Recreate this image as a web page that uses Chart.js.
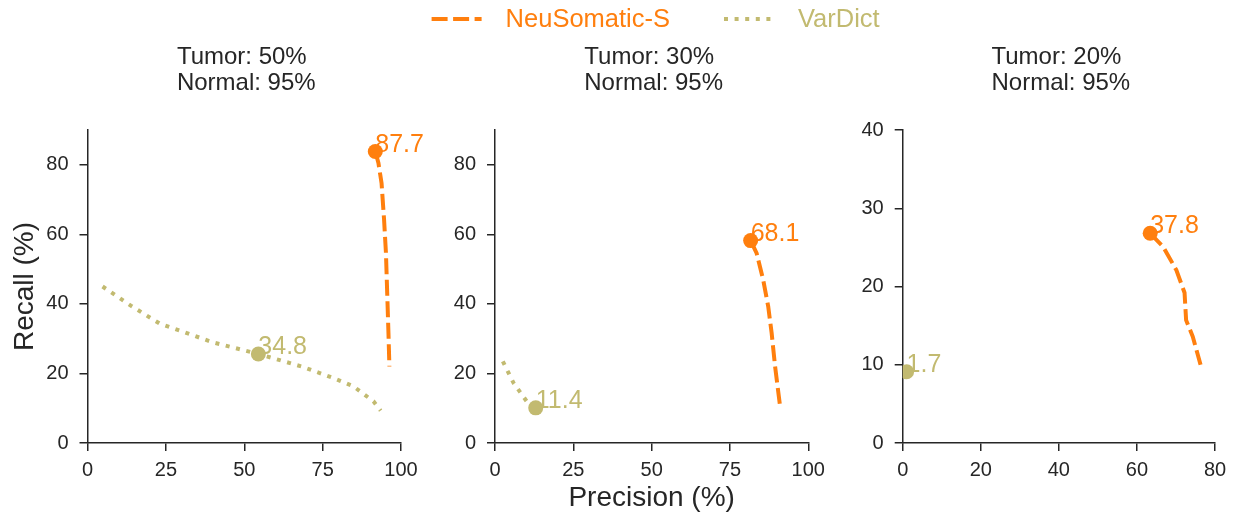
<!DOCTYPE html>
<html>
<head>
<meta charset="utf-8">
<script src="https://cdn.jsdelivr.net/npm/chart.js@4.4.1/dist/chart.umd.min.js"></script>
<style>
  body { margin: 0; background: #fff; }
  #wrap { position: relative; width: 1239px; height: 520px; }
  #wrap canvas { position: absolute; left: 0; top: 0; }
</style>
</head>
<body>
<div id="wrap">
  <canvas id="panel50" width="1239" height="520"></canvas>
  <canvas id="panel30" width="1239" height="520"></canvas>
  <canvas id="panel20" width="1239" height="520"></canvas>
</div>
<script>
// series + panel names
const seriesNames = ['NeuSomatic-S', 'VarDict'];
const panelTitles = [['Tumor: 50%', 'Normal: 95%'], ['Tumor: 30%', 'Normal: 95%'], ['Tumor: 20%', 'Normal: 95%']];

// Tumor 50%
const neu50Precision = [91.8, 92.8, 93.8, 94.6, 95.2, 95.6, 96.0, 96.3];
const neu50Recall = [83.8, 80.5, 74.7, 64.2, 54.6, 43.1, 31.6, 22.0];
const var50Precision = [4.8, 13.8, 23.1, 29.5, 40.1, 54.5, 68.3, 78.4, 84.8, 91.2, 93.5];
const var50Recall = [45.0, 39.5, 34.3, 32.3, 28.9, 25.6, 22.0, 18.7, 16.3, 12.0, 9.3];

// Tumor 30%
const neu30Precision = [81.6, 83.5, 85.6, 87.2, 88.3, 89.4, 91.0];
const neu30Recall = [58.2, 54.6, 46.9, 39.3, 31.6, 22.0, 10.5];
const var30Precision = [2.5, 5.9, 10.1, 13.0];
const var30Recall = [23.5, 17.3, 12.0, 10.1];

// Tumor 20%
const neu20Precision = [63.4, 66.7, 70.1, 72.2, 72.6, 74.3, 76.3];
const neu20Recall = [26.8, 25.1, 22.1, 19.2, 15.7, 13.6, 10.0];
const var20Precision = [1.0];
const var20Recall = [9.1];

// highlighted points and their labels
const neuMarkerPrecision = [91.8, 81.6, 63.4];
const neuMarkerRecall = [83.8, 58.2, 26.8];
const neuMarkerLabels = ['87.7', '68.1', '37.8'];
const varMarkerPrecision = [54.5, 13.0, 1.0];
const varMarkerRecall = [25.6, 10.1, 9.1];
const varMarkerLabels = ['34.8', '11.4', '1.7'];

// axis ranges
const xMax = [100, 100, 80];
const xStep = [25, 25, 20];
const yMax = [90, 90, 40];
const yStep = [20, 20, 10];

const neuColor = 'rgb(255, 127, 14)';
const varColor = 'rgb(194, 186, 112)';
const inkColor = '#262626';
const fontFamily = '"Liberation Sans", Arial, Helvetica, sans-serif';

Chart.defaults.font.family = fontFamily;
Chart.defaults.color = inkColor;

// plot area edges of each panel (canvas is full page)
const plotLeft = [87.5, 495, 902.7];
const plotRight = [401, 808.3, 1215];
const yAxisWidth = 80;
const xAxisHeight = 77;

function toPoints(xs, ys) {
  return xs.map((x, k) => ({ x: x, y: ys[k] }));
}

// titles, point labels and the shared legend
const panelText = {
  id: 'panelText',
  beforeDatasetsDraw(chart, args, opts) {
    const ctx = chart.ctx;
    ctx.save();
    ctx.textAlign = 'left';
    ctx.textBaseline = 'alphabetic';
    ctx.font = '25px ' + fontFamily;
    chart.data.datasets.forEach((ds, di) => {
      if (!ds.pointLabel) return;
      const pt = chart.getDatasetMeta(di).data[0];
      ctx.fillStyle = ds.pointBackgroundColor;
      ctx.fillText(ds.pointLabel, pt.x, pt.y);
    });
    ctx.restore();
  },
  afterDraw(chart, args, opts) {
    const ctx = chart.ctx;
    const area = chart.chartArea;
    const mid = (area.left + area.right) / 2;
    ctx.save();
    ctx.textAlign = 'left';
    ctx.textBaseline = 'alphabetic';

    // two line title, lines left aligned, block centred
    ctx.font = '24px ' + fontFamily;
    ctx.fillStyle = inkColor;
    const w = Math.max(...opts.title.map(t => ctx.measureText(t).width));
    opts.title.forEach((t, k) => ctx.fillText(t, mid - w / 2 + 2, 64 + k * 26));

    if (opts.legend) {
      ctx.font = '25.5px ' + fontFamily;
      const lineDs = chart.data.datasets.filter(d => d.isCurve);
      const sample = 50, gap = 24, between = 54;
      const widths = lineDs.map(d => ctx.measureText(d.label).width);
      let total = 0;
      widths.forEach((tw, k) => { total += sample + gap + tw + (k ? between : 0); });
      let x = mid + 4 - total / 2;
      lineDs.forEach((d, k) => {
        ctx.strokeStyle = d.borderColor;
        ctx.lineWidth = d.borderWidth;
        ctx.setLineDash(d.borderDash);
        ctx.lineCap = 'butt';
        ctx.beginPath();
        ctx.moveTo(x, 19);
        ctx.lineTo(x + sample, 19);
        ctx.stroke();
        ctx.setLineDash([]);
        ctx.fillStyle = d.borderColor;
        ctx.fillText(d.label, x + sample + gap, 27);
        x += sample + gap + widths[k] + between;
      });
    }
    ctx.restore();
  }
};

function makePanel(i, canvasId, neuX, neuY, varX, varY) {
  const ctx = document.getElementById(canvasId).getContext('2d');
  return new Chart(ctx, {
    type: 'line',
    data: {
      datasets: [
        {
          label: seriesNames[0] + ' point',
          data: toPoints([neuMarkerPrecision[i]], [neuMarkerRecall[i]]),
          showLine: false,
          pointRadius: 7.5,
          pointBorderWidth: 0,
          pointBackgroundColor: neuColor,
          pointLabel: neuMarkerLabels[i],
          clip: 0,
          order: 0
        },
        {
          label: seriesNames[1] + ' point',
          data: toPoints([varMarkerPrecision[i]], [varMarkerRecall[i]]),
          showLine: false,
          pointRadius: 7.5,
          pointBorderWidth: 0,
          pointBackgroundColor: varColor,
          pointLabel: varMarkerLabels[i],
          clip: 0,
          order: 0
        },
        {
          label: seriesNames[0],
          isCurve: true,
          data: toPoints(neuX, neuY),
          borderColor: neuColor,
          borderWidth: 4,
          borderDash: [16, 5.5],
          borderCapStyle: 'butt',
          pointRadius: 0,
          tension: 0,
          fill: false,
          order: 1
        },
        {
          label: seriesNames[1],
          isCurve: true,
          data: toPoints(varX, varY),
          borderColor: varColor,
          borderWidth: 4,
          borderDash: [4, 6.6],
          borderCapStyle: 'butt',
          pointRadius: 0,
          tension: 0,
          fill: false,
          order: 1
        }
      ]
    },
    options: {
      responsive: false,
      devicePixelRatio: 1,
      animation: false,
      events: [],
      layout: {
        padding: { left: plotLeft[i] - yAxisWidth, right: 1239 - plotRight[i], top: 130, bottom: 0 }
      },
      plugins: {
        legend: { display: false },
        title: { display: false },
        tooltip: { enabled: false },
        panelText: { title: panelTitles[i], legend: i === 1 }
      },
      scales: {
        x: {
          type: 'linear',
          min: 0,
          max: xMax[i],
          ticks: { stepSize: xStep[i], includeBounds: false, padding: 7, color: inkColor, font: { size: 20 } },
          grid: { display: true, drawOnChartArea: false, drawTicks: true, tickLength: 8, color: inkColor, lineWidth: 1.5 },
          border: { display: true, color: inkColor, width: 1.5 },
          title: { display: i === 1, text: 'Precision (%)', color: inkColor, font: { size: 28 }, padding: { top: 0, bottom: 5 } },
          afterFit: s => { s.height = xAxisHeight; }
        },
        y: {
          type: 'linear',
          min: 0,
          max: yMax[i],
          ticks: { stepSize: yStep[i], includeBounds: false, padding: 11, color: inkColor, font: { size: 20 } },
          grid: { display: true, drawOnChartArea: false, drawTicks: true, tickLength: 8, color: inkColor, lineWidth: 1.5 },
          border: { display: true, color: inkColor, width: 1.5 },
          title: { display: i === 0, text: 'Recall (%)', color: inkColor, font: { size: 28 }, padding: { top: 1, bottom: 0 } },
          afterFit: s => { s.width = yAxisWidth; }
        }
      }
    },
    plugins: [panelText]
  });
}

makePanel(0, 'panel50', neu50Precision, neu50Recall, var50Precision, var50Recall);
makePanel(1, 'panel30', neu30Precision, neu30Recall, var30Precision, var30Recall);
makePanel(2, 'panel20', neu20Precision, neu20Recall, var20Precision, var20Recall);
</script>
</body>
</html>
